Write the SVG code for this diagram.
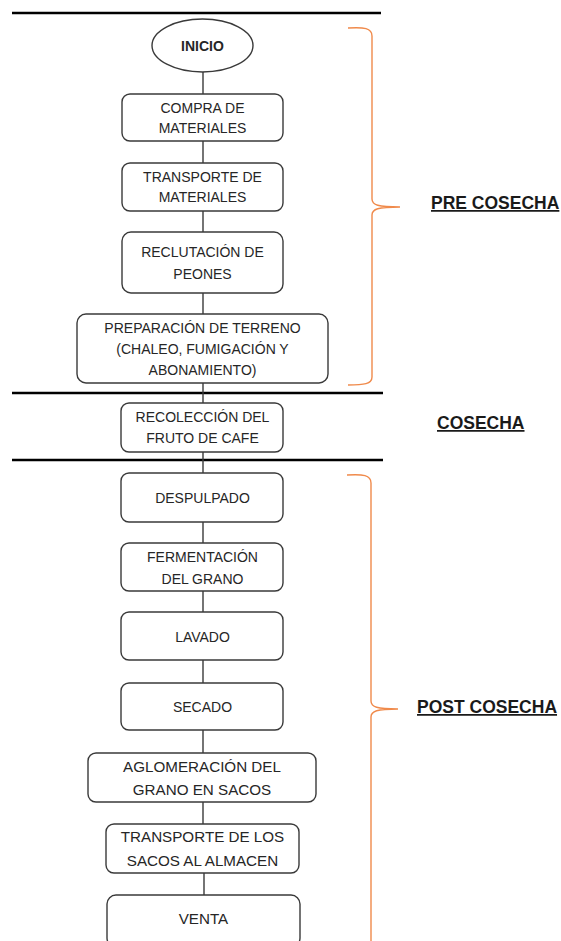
<svg xmlns="http://www.w3.org/2000/svg" width="561" height="941" viewBox="0 0 561 941">
<style>
.box{fill:#fff;stroke:#3a3a3a;stroke-width:1.4}
.t{font-family:"Liberation Sans",Arial,sans-serif;font-size:14px;fill:#262626;text-anchor:middle}
.tb{font-size:15.2px}
.b{font-weight:bold}
.lbl{font-family:"Liberation Sans",Arial,sans-serif;font-size:17.5px;font-weight:bold;fill:#1a1a1a;text-decoration:underline}
.sep{stroke:#000;stroke-width:2.6}
.con{stroke:#3a3a3a;stroke-width:1.4;fill:none}
.brace{stroke:#f08a4b;stroke-width:1.4;fill:none}
</style>
<rect width="561" height="941" fill="#fff"/>
<g id="separators">
<line class="sep" x1="12" y1="13" x2="381" y2="13"/>
<line class="sep" x1="12" y1="393" x2="383" y2="393"/>
<line class="sep" x1="12" y1="460" x2="383" y2="460"/>
</g>
<g id="connectors">
<line class="con" x1="203" y1="72" x2="203" y2="94"/>
<line class="con" x1="203" y1="141" x2="203" y2="163"/>
<line class="con" x1="203" y1="211" x2="203" y2="232"/>
<line class="con" x1="203" y1="293" x2="203" y2="314"/>
<line class="con" x1="203" y1="383" x2="203" y2="403"/>
<line class="con" x1="203" y1="452" x2="203" y2="473"/>
<line class="con" x1="203" y1="522" x2="203" y2="543"/>
<line class="con" x1="203" y1="591" x2="203" y2="612"/>
<line class="con" x1="203" y1="660" x2="203" y2="683"/>
<line class="con" x1="203" y1="730" x2="203" y2="753"/>
<line class="con" x1="203" y1="802" x2="203" y2="824"/>
<line class="con" x1="204" y1="873" x2="204" y2="895"/>
</g>
<g id="inicio">
<ellipse class="box" cx="202.5" cy="45.5" rx="50.5" ry="26.5"/>
<text class="t b" x="202.5" y="51">INICIO</text>
</g>
<g id="compra">
<rect class="box" x="122" y="94" width="161" height="47" rx="8"/>
<text class="t" x="202.5" y="113">COMPRA DE</text>
<text class="t" x="202.5" y="133">MATERIALES</text>
</g>
<g id="transporte-materiales">
<rect class="box" x="122" y="163" width="161" height="48" rx="8"/>
<text class="t" x="202.5" y="182">TRANSPORTE DE</text>
<text class="t" x="202.5" y="202">MATERIALES</text>
</g>
<g id="reclutacion">
<rect class="box" x="122" y="232" width="161" height="61" rx="9"/>
<text class="t" x="202.5" y="257">RECLUTACIÓN DE</text>
<text class="t" x="202.5" y="279">PEONES</text>
</g>
<g id="preparacion">
<rect class="box" x="77" y="314" width="251" height="69" rx="9"/>
<text class="t" x="202.5" y="333">PREPARACIÓN DE TERRENO</text>
<text class="t" x="202.5" y="354">(CHALEO, FUMIGACIÓN Y</text>
<text class="t" x="202.5" y="375">ABONAMIENTO)</text>
</g>
<g id="recoleccion">
<rect class="box" x="121" y="403" width="162" height="49" rx="8"/>
<text class="t" x="202.5" y="422">RECOLECCIÓN DEL</text>
<text class="t" x="202.5" y="443">FRUTO DE CAFE</text>
</g>
<g id="despulpado">
<rect class="box" x="121" y="473" width="162" height="49" rx="8"/>
<text class="t" x="202.5" y="503">DESPULPADO</text>
</g>
<g id="fermentacion">
<rect class="box" x="121" y="543" width="162" height="48" rx="8"/>
<text class="t" x="202.5" y="562">FERMENTACIÓN</text>
<text class="t" x="202.5" y="584">DEL GRANO</text>
</g>
<g id="lavado">
<rect class="box" x="121" y="612" width="162" height="48" rx="8"/>
<text class="t" x="202.5" y="642">LAVADO</text>
</g>
<g id="secado">
<rect class="box" x="121" y="683" width="162" height="47" rx="8"/>
<text class="t" x="202.5" y="712">SECADO</text>
</g>
<g id="aglomeracion">
<rect class="box" x="88" y="753" width="228" height="49" rx="8"/>
<text class="t tb" x="202" y="772">AGLOMERACIÓN DEL</text>
<text class="t tb" x="202" y="795">GRANO EN SACOS</text>
</g>
<g id="transporte-sacos">
<rect class="box" x="106" y="824" width="193" height="49" rx="8"/>
<text class="t tb" x="202.5" y="842">TRANSPORTE DE LOS</text>
<text class="t tb" x="202.5" y="866">SACOS AL ALMACEN</text>
</g>
<g id="venta">
<rect class="box" x="107" y="895" width="193" height="52" rx="9"/>
<text class="t tb" x="203.5" y="924">VENTA</text>
</g>
<g id="braces">
<path class="brace" d="M348,28 C364,27 372,28 372,36 L372,199 C372,205 378,207 400,207 C378,207 372,209 372,215 L372,377 C372,384 364,385 348,385"/>
<path class="brace" d="M347,475 C363,474 371,475 371,483 L371,701 C371,707 377,709 398,709 C377,709 371,711 371,717 L371,941"/>
</g>
<g id="labels">
<text class="lbl" x="431" y="209">PRE COSECHA</text>
<text class="lbl" x="437" y="429">COSECHA</text>
<text class="lbl" x="417" y="713">POST COSECHA</text>
</g>
</svg>
